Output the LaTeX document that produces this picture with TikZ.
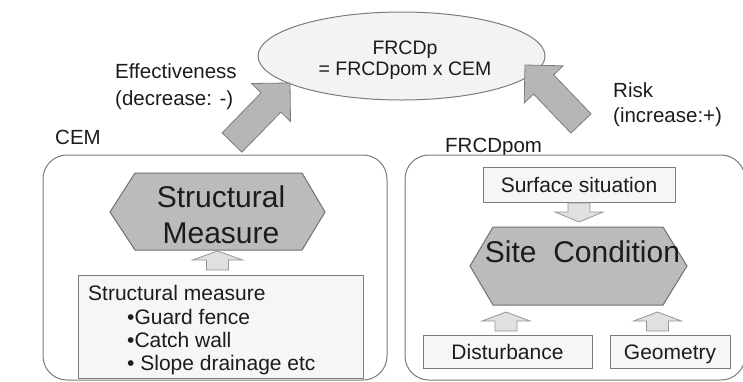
\documentclass[tikz,border=0pt]{standalone}
\usepackage{fontspec}
\setmainfont{Liberation Sans}
\usetikzlibrary{calc,shapes.geometric}
\definecolor{edge}{HTML}{7C7C7C}
\definecolor{hexfill}{HTML}{BBBBBB}
\definecolor{bigarrowfill}{HTML}{B6B6B6}
\definecolor{ellfill}{HTML}{F3F3F3}
\definecolor{boxfill}{HTML}{F6F6F6}
\definecolor{smallarrowfill}{HTML}{E0E0E0}
\definecolor{ink}{HTML}{1C1C1C}

% #1 style, #2 tail, #3 tip, #4 shaft half width, #5 head half width, #6 head length
\newcommand{\blockarrow}[6]{%
  \coordinate (hb) at ($(#3)!#6!(#2)$);
  \filldraw[#1] ($(#2)!#4!90:(#3)$) -- ($(hb)!#4!90:(#3)$) -- ($(hb)!#5!90:(#3)$)
    -- (#3) -- ($(hb)!#5!-90:(#3)$) -- ($(hb)!#4!-90:(#3)$) -- ($(#2)!#4!-90:(#3)$) -- cycle;
}

\tikzset{
  lbl/.style={font=\fontsize{20.5}{24}\selectfont, text=ink, inner sep=0pt},
  boxtxt/.style={font=\fontsize{21}{24}\selectfont, text=ink, inner sep=0pt},
  bigtxt/.style={font=\fontsize{30}{36}\selectfont, text=ink, inner sep=0pt},
  bigbox/.style={draw=edge, line width=1pt, fill=white, rounded corners=24pt, inner sep=0pt},
  smallbox/.style={draw=edge, line width=1pt, fill=boxfill, inner sep=0pt, font=\fontsize{21}{24}\selectfont, text=ink, text height=15pt, text depth=0pt},
  hexshape/.style={draw=edge!90!black, line width=1pt, fill=hexfill},
  bigarrow/.style={draw=edge, line width=0.8pt, fill=bigarrowfill},
  smallarrow/.style={draw=edge!80, line width=0.8pt, fill=smallarrowfill},
}

\begin{document}
\begin{tikzpicture}[x=1pt,y=-1pt]
\useasboundingbox (0,0) rectangle (743,381);
\fill[white] (0,0) rectangle (743,381);

% top ellipse
\node[ellipse, draw=edge, line width=1pt, fill=ellfill, minimum width=287pt, minimum height=88pt, inner sep=0pt] (frcdp) at (401.5,56) {};
\node[lbl, font=\fontsize{19.5}{22}\selectfont, anchor=base] (frcdpA) at (405,54) {FRCDp};
\node[lbl, font=\fontsize{19.5}{22}\selectfont, anchor=base] (frcdpB) at (405,75) {= FRCDpom x CEM};

% labels
\node[lbl, anchor=base west] (eff1) at (115,78.3) {Effectiveness};
\node[lbl, anchor=base west] (eff2) at (115,105.3) {(decrease: -)};
\node[lbl, anchor=base west] (risk1) at (613,97.3) {Risk};
\node[lbl, anchor=base west] (risk2) at (613,122.3) {(increase:+)};
\node[lbl, anchor=base west] (cemlbl) at (55,144.3) {CEM};
\node[lbl, anchor=base west] (pomlbl) at (445,152.3) {FRCDpom};

% group boxes
\node[bigbox, minimum width=344pt, minimum height=225pt] (cem) at (215,267.5) {};
\node[bigbox, minimum width=340pt, minimum height=225pt] (pom) at (575,267.5) {};

% big arrows
\coordinate (lt) at (232,142.5);
\coordinate (lh) at (290,83);
\coordinate (rt) at (581,123.5);
\coordinate (rh) at (525,65);
\blockarrow{bigarrow}{lt}{lh}{13.8pt}{27.2pt}{27.2pt}
\blockarrow{bigarrow}{rt}{rh}{13.9pt}{26.9pt}{26.9pt}

% left hexagon
\draw[hexshape] (110,212) -- (135,173) -- (302,173) -- (325,212) -- (302,250) -- (135,250) -- cycle;
\node[bigtxt, anchor=base] (sm1) at (221,207.7) {Structural};
\node[bigtxt, anchor=base] (sm2) at (221,243.7) {Measure};

% structural measure box
\node[draw=edge, line width=1pt, fill=boxfill, minimum width=285pt, minimum height=103pt, inner sep=0pt] (smbox) at (220.5,326.5) {};
\node[boxtxt, anchor=base west] (sml1) at (88,300.5) {Structural measure};
\node[boxtxt, anchor=base west] (sml2) at (127,324.5) {\textbullet Guard fence};
\node[boxtxt, anchor=base west] (sml3) at (127,347.5) {\textbullet Catch wall};
\node[boxtxt, anchor=base west] (sml4) at (127,370.5) {\textbullet{} Slope drainage etc};

\coordinate (s1t) at (217.5,270);
\coordinate (s1h) at (217.5,251);
\blockarrow{smallarrow}{s1t}{s1h}{11pt}{25pt}{9pt}

% right side
\node[smallbox, minimum width=192pt, minimum height=35pt] (surf) at (579,184.5) {Surface situation};
\draw[hexshape] (470,266) -- (493,227) -- (663,227) -- (687,266) -- (663,305) -- (493,305) -- cycle;
\node[bigtxt, anchor=base] (site) at (582.5,262.7) {Site~~Condition};
\node[smallbox, minimum width=169pt, minimum height=33pt] (dist) at (507.5,351.5) {Disturbance};
\node[smallbox, minimum width=120pt, minimum height=33pt] (geom) at (670,351.5) {Geometry};

\coordinate (s2t) at (579,203);
\coordinate (s2h) at (579,222);
\blockarrow{smallarrow}{s2t}{s2h}{11pt}{24pt}{10pt}
\coordinate (s3t) at (506,331);
\coordinate (s3h) at (506,312);
\blockarrow{smallarrow}{s3t}{s3h}{11pt}{24pt}{9pt}
\coordinate (s4t) at (657.5,331);
\coordinate (s4h) at (657.5,312);
\blockarrow{smallarrow}{s4t}{s4h}{11pt}{24pt}{9pt}
\end{tikzpicture}
\end{document}
